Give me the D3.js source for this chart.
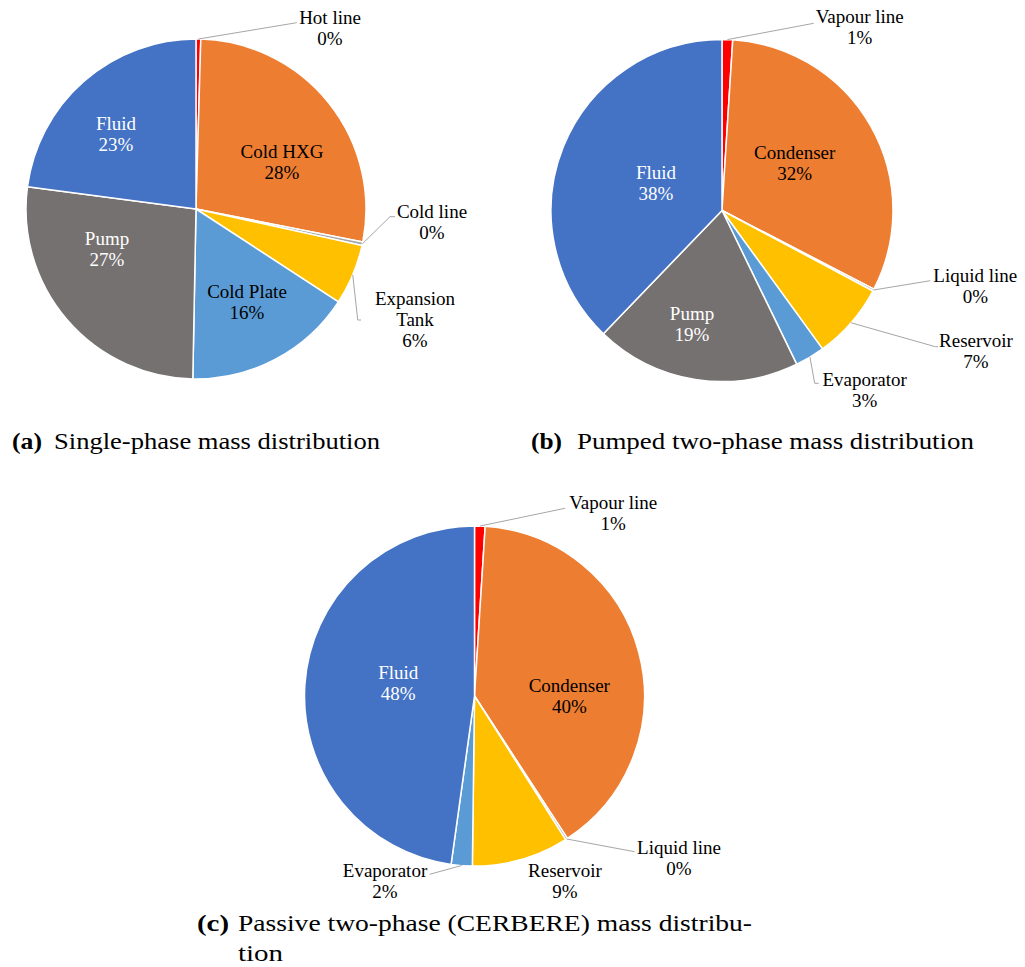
<!DOCTYPE html>
<html><head><meta charset="utf-8">
<script src="https://cdn.jsdelivr.net/npm/d3@7"></script>
<style>body{margin:0;background:#fff}svg{display:block}</style>
</head><body>
<svg id="chart" width="1025" height="967" font-family="Liberation Serif"></svg>
<script>
// ---- data ----
const catsA = ["Hot line","Cold HXG","Cold line","Expansion Tank","Cold Plate","Pump","Fluid"];
const valsA = [0.45, 27.65, 0.35, 5.75, 16.1, 26.8, 22.9];
const catsB = ["Vapour line","Condenser","Liquid line","Reservoir","Evaporator","Pump","Fluid"];
const valsB = [1.0, 31.6, 0.2, 7.2, 2.8, 19.4, 37.8];
const catsC = ["Vapour line","Condenser","Liquid line","Reservoir","Evaporator","Fluid"];
const valsC = [1.0, 39.8, 0.2, 9.2, 2.0, 47.8];
const capTags = ["(a)","(b)","(c)"];
const capTexts = ["Single-phase mass distribution","Pumped two-phase mass distribution","Passive two-phase (CERBERE) mass distribu-"];
const capCont = "tion";

// ---- styles ----
const colors = {"Hot line":"#FF0000","Vapour line":"#FF0000","Cold HXG":"#ED7D31","Condenser":"#ED7D31",
  "Cold line":"#A5A5A5","Liquid line":"#A5A5A5","Expansion Tank":"#FFC000","Reservoir":"#FFC000",
  "Cold Plate":"#5B9BD5","Evaporator":"#5B9BD5","Pump":"#767171","Fluid":"#4472C4"};
const whiteText = new Set(["Pump","Fluid"]);

// ---- layout (label anchors relative to pie centre) ----
const layouts = [
  {cx:196, cy:209, r:170, cats:catsA, vals:valsA, labels:{
    "Hot line":{x:134,y:-192,leader:[[100.7,-186.3]]},
    "Cold HXG":{x:86,y:-58},
    "Cold line":{x:236,y:2,leader:[[194,7.7],[199,7.7]]},
    "Expansion Tank":{x:219,y:89,lines:["Expansion","Tank"],leader:[[161.7,111],[165,111]]},
    "Cold Plate":{x:51,y:82},
    "Pump":{x:-89,y:29},
    "Fluid":{x:-80,y:-86}}},
  {cx:722, cy:210.5, r:171, cats:catsB, vals:valsB, labels:{
    "Vapour line":{x:137.7,y:-193.8,leader:[[91.7,-187.2]]},
    "Condenser":{x:72.7,y:-57.8},
    "Liquid line":{x:253.3,y:64.5,leader:[[208.3,70.2]]},
    "Reservoir":{x:254,y:130.2,leader:[[213.3,136.2],[216,136.2]]},
    "Evaporator":{x:142.7,y:168.5,leader:[[92.7,172.8],[96.7,172.8]]},
    "Pump":{x:-30,y:102.8},
    "Fluid":{x:-66,y:-37.8}}},
  {cx:474.5, cy:696, r:170, cats:catsC, vals:valsC, labels:{
    "Vapour line":{x:138.7,y:-193.3,leader:[[90.5,-187.7]]},
    "Condenser":{x:94.8,y:-11},
    "Liquid line":{x:204.5,y:151.3,leader:[[160,155.7]]},
    "Reservoir":{x:90.5,y:174},
    "Evaporator":{x:-89.5,y:174,leader:[[-44.9,178.3]]},
    "Fluid":{x:-76.3,y:-23.3}}}
];
const lineH = 21;

const svg = d3.select("#chart");
layouts.forEach(L => {
  const data = L.cats.map((c,i)=>({cat:c, v:L.vals[i]}));
  const total = d3.sum(L.vals);
  const pie = d3.pie().sort(null).value(d=>d.v);
  const arcs = pie(data);
  const arc = d3.arc().innerRadius(0).outerRadius(L.r);
  const edge = d3.arc().innerRadius(L.r).outerRadius(L.r);
  const g = svg.append("g").attr("transform",`translate(${L.cx},${L.cy})`);
  g.selectAll("path.slice").data(arcs).join("path").attr("class","slice")
    .attr("d",arc).attr("fill",d=>colors[d.data.cat])
    .attr("stroke","#fff").attr("stroke-width",1.5).attr("stroke-linejoin","round");
  arcs.forEach(d=>{
    const lab = L.labels[d.data.cat];
    if(lab && lab.leader){
      const pts = [edge.centroid(d)].concat(lab.leader);
      g.append("path").attr("d", d3.line()(pts)).attr("fill","none")
        .attr("stroke","#A6A6A6").attr("stroke-width",1);
    }
  });
  arcs.forEach(d=>{
    const lab = L.labels[d.data.cat];
    const lines = (lab.lines || [d.data.cat]).concat([Math.round(d.data.v/total*100)+"%"]);
    const t = g.append("text").attr("text-anchor","middle").attr("font-size",19)
      .attr("fill", whiteText.has(d.data.cat) ? "#fff" : "#000");
    lines.forEach((s,i)=>{
      t.append("tspan").attr("x",lab.x).attr("y",lab.y + i*lineH).attr("dy","0.35em").text(s);
    });
  });
});

// captions
const capLayout = [
  {tx:12, tw:30, x:54, w:326, y:449},
  {tx:531, tw:31, x:577, w:397, y:449},
  {tx:197, tw:32, x:238, w:514, y:931}
];
function capText(x,y,w,bold,s){
  return svg.append("text").attr("x",x).attr("y",y)
    .attr("font-size",23).attr("font-weight",bold?"bold":"normal")
    .attr("textLength",w).attr("lengthAdjust","spacingAndGlyphs")
    .attr("fill","#000").text(s);
}
capLayout.forEach((c,i)=>{
  capText(c.tx,c.y,c.tw,true,capTags[i]);
  capText(c.x,c.y,c.w,false,capTexts[i]);
});
capText(238,961,45,false,capCont);
</script>
</body></html>
